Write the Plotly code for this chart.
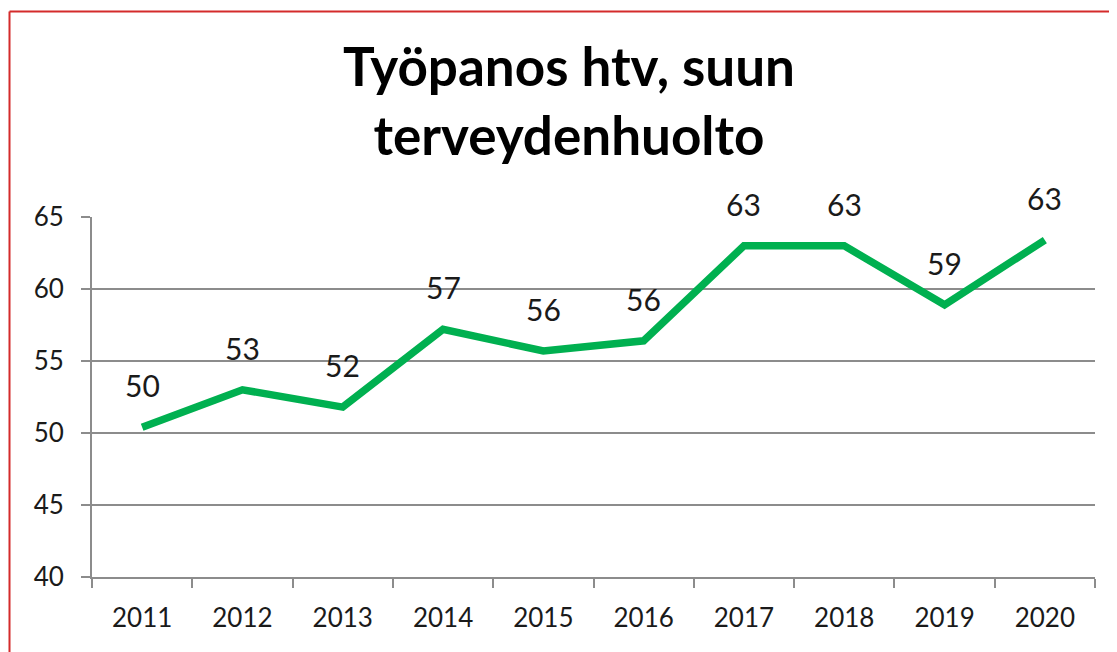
import plotly.graph_objects as go

years = ["2011", "2012", "2013", "2014", "2015", "2016", "2017", "2018", "2019", "2020"]
htv = [50.4, 53.0, 51.8, 57.2, 55.7, 56.4, 63.0, 63.0, 58.9, 63.4]
y_ticks = [40, 45, 50, 55, 60, 65]
title_text = "Työpanos htv, suun<br>terveydenhuolto"

# page has an 8px body margin, so the figure is drawn 8px smaller and offset
OFF = 8
W, H = 1117 - OFF, 652 - OFF
ML, MR, MT, MB = 92 - OFF, 22, 217 - OFF, 75
PW, PH = W - ML - MR, H - MT - MB

def px_x(px):
    return (px - OFF - ML) / PW

def px_y(py):
    return (H - MB - (py - OFF)) / PH

FONT = "Lato, Open Sans, sans-serif"

fig = go.Figure()
fig.add_trace(go.Scatter(
    x=list(range(len(years))), y=htv, mode="lines",
    line=dict(color="#00B050", width=7.5),
    hoverinfo="y", showlegend=False,
))

for i, v in enumerate(htv):
    fig.add_annotation(x=i, y=v, text=f"{v:.0f}", showarrow=False,
                       yshift=42, xanchor="center", yanchor="middle",
                       font=dict(family=FONT, size=30, color="#1a1a1a"))

border = "#d42b2b"
fig.add_shape(type="line", xref="paper", yref="paper",
              x0=px_x(9.5), x1=px_x(1125), y0=px_y(11.5), y1=px_y(11.5),
              line=dict(color=border, width=2))
fig.add_shape(type="line", xref="paper", yref="paper",
              x0=px_x(9.5), x1=px_x(9.5), y0=px_y(11.5), y1=px_y(660),
              line=dict(color=border, width=2))

fig.update_layout(
    width=W, height=H,
    margin=dict(l=ML, r=MR, t=MT, b=MB),
    paper_bgcolor="white", plot_bgcolor="white",
    title=dict(text=f"<b>{title_text}</b>", x=(569 - OFF) / W, xanchor="center",
               y=1 - 78 / H, yanchor="top",
               font=dict(family=FONT, size=53, color="black")),
    xaxis=dict(
        range=[-0.5, 9.5],
        tickvals=list(range(len(years))), ticktext=years,
        showgrid=False, showline=True, linecolor="#8c8c8c", linewidth=2,
        ticks="", 
        tickfont=dict(family=FONT, size=26, color="#1a1a1a"),
        ticklabelstandoff=17, zeroline=False,
        minor=dict(tickvals=[i - 0.5 for i in range(len(years) + 1)],
                   ticks="outside", ticklen=9, tickcolor="#8c8c8c", tickwidth=2,
                   showgrid=False),
    ),
    yaxis=dict(
        range=[40, 65], tickvals=y_ticks,
        showgrid=True, gridcolor="#8c8c8c", gridwidth=2,
        showline=True, linecolor="#8c8c8c", linewidth=2,
        ticks="outside", ticklen=9, tickcolor="#8c8c8c", tickwidth=2,
        tickfont=dict(family=FONT, size=26, color="#1a1a1a"),
        ticklabelstandoff=12, zeroline=False,
    ),
)

fig.write_html("out.html")
